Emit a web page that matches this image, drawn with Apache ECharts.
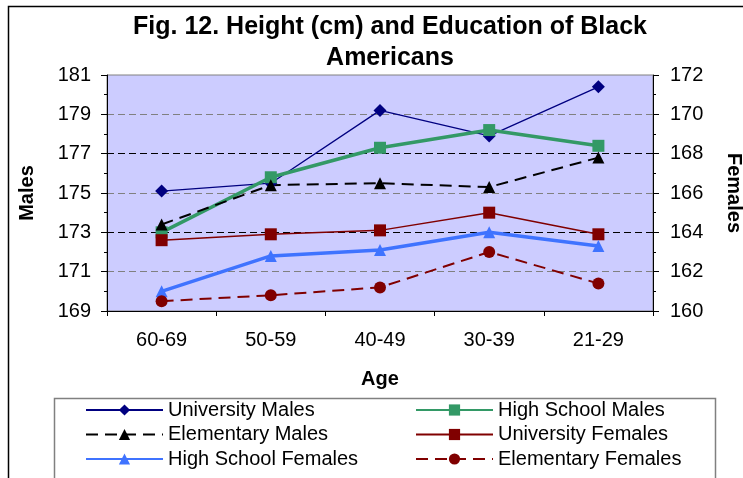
<!DOCTYPE html>
<html>
<head>
<meta charset="utf-8">
<script src="https://cdn.jsdelivr.net/npm/echarts@6/dist/echarts.min.js"></script>
<style>
html,body{margin:0;padding:0;background:#fff;}
#chart{width:743px;height:478px;}
</style>
</head>
<body>
<div id="chart"></div>
<script>
var categories = ['60-69', '50-59', '40-49', '30-39', '21-29'];
var universityMales = [175.1, 175.5, 179.2, 177.9, 180.4];
var highSchoolMales = [173.0, 175.8, 177.3, 178.2, 177.4];
var elementaryMales = [173.4, 175.4, 175.5, 175.3, 176.8];
var universityFemales = [163.6, 163.9, 164.1, 165.0, 163.9];
var highSchoolFemales = [161.0, 162.8, 163.1, 164.0, 163.3];
var elementaryFemales = [160.5, 160.8, 161.2, 163.0, 161.4];
var maleTicks = [169, 181, 2];
var femaleTicks = [160, 172, 2];

var FONT = '"Liberation Sans", Arial, sans-serif';
var chart = echarts.init(document.getElementById('chart'), null, {renderer: 'canvas'});

function ser(name, data, axis, color, width, symbol, size, dashed) {
  return {
    name: name, type: 'line', data: data, yAxisIndex: axis,
    symbol: symbol, symbolSize: size,
    lineStyle: {color: color, width: width, type: dashed ? [12, 7] : 'solid'},
    itemStyle: {color: color, borderWidth: 0},
    emphasis: {disabled: true},
    animation: false
  };
}

var legendText = {fontFamily: FONT, fontSize: 20, color: '#000', lineHeight: 24};

var option = {
  animation: false,
  backgroundColor: '#ffffff',
  title: {
    text: 'Fig. 12. Height (cm) and Education of Black\nAmericans',
    left: 385, top: 7, textAlign: 'center',
    textStyle: {fontFamily: FONT, fontWeight: 'bold', fontSize: 25, lineHeight: 31, color: '#000'}
  },
  grid: {
    left: 107, right: 90, top: 75, bottom: 167,
    outerBoundsMode: 'none', containLabel: false,
    show: true, backgroundColor: '#CCCCFF', borderColor: '#808080', borderWidth: 1
  },
  legend: [
    {
      orient: 'vertical', left: 85, top: 398, padding: 0, height: 80,
      data: ['University Males', 'Elementary Males', 'High School Females'],
      itemWidth: 77, itemHeight: 14, itemGap: 0.5,
      textStyle: legendText, selectedMode: false
    },
    {
      orient: 'vertical', left: 415, top: 398, padding: 0, height: 80,
      data: ['High School Males', 'University Females', 'Elementary Females'],
      itemWidth: 77, itemHeight: 14, itemGap: 0.5,
      textStyle: legendText, selectedMode: false
    }
  ],
  xAxis: {
    type: 'category', data: categories, boundaryGap: true,
    name: 'Age', nameLocation: 'middle', nameGap: 58,
    nameTextStyle: {fontFamily: FONT, fontWeight: 'bold', fontSize: 20, color: '#000'},
    axisLine: {lineStyle: {color: '#000', width: 1}},
    axisTick: {show: true, length: 5, lineStyle: {color: '#000'}},
    axisLabel: {fontFamily: FONT, fontSize: 20, color: '#000', margin: 19},
    splitLine: {show: false}
  },
  yAxis: [
    {
      type: 'value', min: maleTicks[0], max: maleTicks[1], interval: maleTicks[2],
      position: 'left',
      name: 'Males', nameLocation: 'middle', nameGap: 70, nameRotate: 90,
      nameTextStyle: {fontFamily: FONT, fontWeight: 'bold', fontSize: 20, color: '#000'},
      axisLine: {show: true, lineStyle: {color: '#000', width: 1}},
      axisTick: {show: true, length: 6, lineStyle: {color: '#000'}},
      minorTick: {show: true, splitNumber: 2, length: 3, lineStyle: {color: '#000'}},
      axisLabel: {fontFamily: FONT, fontSize: 20, color: '#000', margin: 16},
      splitLine: {show: true, showMinLine: false, showMaxLine: false,
        lineStyle: {color: ['#808080', '#000000'], width: 1, type: [7, 4]}}
    },
    {
      type: 'value', min: femaleTicks[0], max: femaleTicks[1], interval: femaleTicks[2],
      position: 'right',
      name: 'Females', nameLocation: 'middle', nameGap: 71, nameRotate: -90,
      nameTextStyle: {fontFamily: FONT, fontWeight: 'bold', fontSize: 20, color: '#000'},
      axisLine: {show: true, lineStyle: {color: '#000', width: 1}},
      axisTick: {show: true, length: 6, lineStyle: {color: '#000'}},
      minorTick: {show: true, splitNumber: 2, length: 3, lineStyle: {color: '#000'}},
      axisLabel: {fontFamily: FONT, fontSize: 20, color: '#000', margin: 17},
      splitLine: {show: false}
    }
  ],
  graphic: [
    {type: 'rect', left: 6, top: 4, shape: {width: 760, height: 520},
      style: {fill: 'none', stroke: '#000', lineWidth: 1.5}, silent: true, z: -1},
    {type: 'rect', left: 52, top: 396, shape: {width: 661, height: 100},
      style: {fill: 'none', stroke: '#808080', lineWidth: 1.5}, silent: true, z: -1}
  ],
  series: [
    ser('University Males', universityMales, 0, '#000080', 1.3, 'diamond', 13, false),
    ser('High School Males', highSchoolMales, 0, '#339966', 3.5, 'rect', 12, false),
    ser('Elementary Males', elementaryMales, 0, '#000000', 2, 'triangle', 12, true),
    ser('University Females', universityFemales, 1, '#800000', 1.5, 'rect', 12, false),
    ser('High School Females', highSchoolFemales, 1, '#3F73FF', 3.5, 'triangle', 12, false),
    ser('Elementary Females', elementaryFemales, 1, '#800000', 2, 'circle', 12, true)
  ]
};
chart.setOption(option);
</script>
</body>
</html>
